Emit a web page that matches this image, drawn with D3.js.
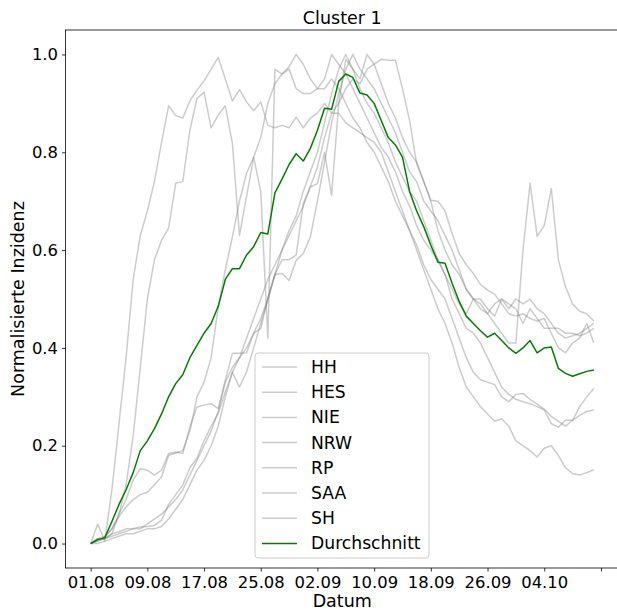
<!DOCTYPE html>
<html>
<head>
<meta charset="utf-8">
<script src="https://cdn.jsdelivr.net/npm/d3@7"></script>
<style>
  body { margin: 0; background: #fff; }
  svg text { font-family: "DejaVu Sans", sans-serif; }
</style>
</head>
<body>
<div id="chart"></div>
<script>
// x ticks every 8 days, starting 01.08 (index 0)
const tickIdx = [0, 8, 16, 24, 32, 40, 48, 56, 64, 72];
const tickLabels = ["01.08", "09.08", "17.08", "25.08", "02.09", "10.09", "18.09", "26.09", "04.10", ""];
const regions = ["HH", "HES", "NIE", "NRW", "RP", "SAA", "SH"];

const HH = [0, 0.04, 0.005, 0.11, 0.245, 0.38, 0.54, 0.63, 0.68, 0.74, 0.82, 0.895, 0.875, 0.87, 0.905, 0.927, 0.946, 0.97, 0.994, 0.95,
  0.905, 0.928, 0.903, 0.885, 0.903, 0.855, 0.85, 0.855, 0.85, 0.872, 0.85, 0.87, 0.88, 0.9, 0.88, 0.88, 0.86, 0.85, 0.84, 0.83,
  0.82, 0.8, 0.76, 0.72, 0.68, 0.64, 0.6, 0.56, 0.52, 0.48, 0.45, 0.41, 0.36, 0.32, 0.3, 0.28, 0.265, 0.25, 0.255, 0.24,
  0.21, 0.2, 0.19, 0.177, 0.195, 0.2, 0.18, 0.155, 0.143, 0.14, 0.145, 0.151];
const HES = [0, 0.01, 0.01, 0.02, 0.06, 0.12, 0.22, 0.36, 0.5, 0.58, 0.62, 0.645, 0.737, 0.74, 0.845, 0.91, 0.923, 0.85, 0.876, 0.895,
  0.818, 0.63, 0.71, 0.79, 0.72, 0.42, 0.97, 0.96, 0.975, 1.0, 0.98, 0.95, 0.93, 0.93, 0.95, 0.93, 0.9, 0.87, 0.85, 0.82,
  0.8, 0.77, 0.74, 0.7, 0.67, 0.64, 0.61, 0.57, 0.54, 0.52, 0.5, 0.46, 0.42, 0.38, 0.35, 0.335, 0.33, 0.325, 0.3, 0.29,
  0.305, 0.307, 0.295, 0.285, 0.275, 0.26, 0.25, 0.24, 0.252, 0.28, 0.3, 0.317];
const NIE = [0, 0.01, 0.015, 0.03, 0.06, 0.09, 0.13, 0.153, 0.15, 0.14, 0.15, 0.184, 0.187, 0.184, 0.238, 0.279, 0.283, 0.286, 0.276, 0.334,
  0.389, 0.389, 0.39, 0.43, 0.44, 0.5, 0.55, 0.552, 0.538, 0.579, 0.593, 0.627, 0.7, 0.78, 0.86, 0.92, 0.97, 1.0, 0.97, 0.95,
  0.93, 0.9, 0.87, 0.84, 0.8, 0.76, 0.74, 0.7, 0.68, 0.66, 0.63, 0.6, 0.56, 0.52, 0.5, 0.5, 0.48, 0.465, 0.5, 0.49,
  0.48, 0.45, 0.48, 0.46, 0.44, 0.44, 0.44, 0.43, 0.43, 0.425, 0.43, 0.44];
const NRW = [0, 0.005, 0.013, 0.03, 0.055, 0.075, 0.09, 0.1, 0.105, 0.12, 0.136, 0.18, 0.185, 0.19, 0.23, 0.3, 0.33, 0.38, 0.484, 0.56,
  0.627, 0.7, 0.757, 0.79, 0.83, 0.9, 0.94, 0.96, 0.97, 0.93, 0.92, 0.92, 0.93, 0.95, 1.0, 0.98, 0.96, 0.93, 0.9, 0.87,
  0.84, 0.81, 0.79, 0.76, 0.72, 0.69, 0.65, 0.62, 0.6, 0.58, 0.55, 0.5, 0.47, 0.44, 0.43, 0.41, 0.38, 0.35, 0.32, 0.305,
  0.295, 0.29, 0.286, 0.28, 0.273, 0.245, 0.238, 0.252, 0.252, 0.262, 0.27, 0.273];
const RP = [0, 0.01, 0.01, 0.02, 0.024, 0.03, 0.031, 0.034, 0.035, 0.037, 0.048, 0.08, 0.1, 0.12, 0.155, 0.175, 0.21, 0.24, 0.266, 0.31,
  0.35, 0.32, 0.351, 0.4, 0.45, 0.5, 0.55, 0.58, 0.58, 0.59, 0.695, 0.729, 0.736, 0.8, 0.712, 0.9, 0.99, 0.97, 0.95, 1.0,
  0.98, 0.94, 0.9, 0.87, 0.83, 0.8, 0.78, 0.74, 0.7, 0.64, 0.6, 0.57, 0.55, 0.52, 0.5, 0.48, 0.47, 0.49, 0.5, 0.48,
  0.5, 0.49, 0.5, 0.48, 0.47, 0.45, 0.43, 0.42, 0.425, 0.43, 0.44, 0.45];
const SAA = [0, 0.005, 0.01, 0.015, 0.02, 0.025, 0.03, 0.03, 0.04, 0.05, 0.06, 0.075, 0.09, 0.11, 0.14, 0.17, 0.2, 0.23, 0.27, 0.33,
  0.36, 0.38, 0.42, 0.46, 0.5, 0.54, 0.57, 0.6, 0.64, 0.67, 0.72, 0.76, 0.8, 0.86, 0.92, 0.97, 1.0, 0.97, 0.93, 0.9,
  0.88, 0.85, 0.82, 0.78, 0.75, 0.72, 0.7, 0.66, 0.62, 0.58, 0.55, 0.52, 0.49, 0.47, 0.5, 0.49, 0.47, 0.45, 0.43, 0.41,
  0.41, 0.6, 0.737, 0.628, 0.65, 0.726, 0.58, 0.525, 0.49, 0.475, 0.47, 0.455];
const SH = [0, 0.0, 0.005, 0.01, 0.015, 0.02, 0.02, 0.025, 0.03, 0.03, 0.035, 0.05, 0.07, 0.09, 0.12, 0.15, 0.17, 0.2, 0.24, 0.3,
  0.35, 0.38, 0.4, 0.43, 0.46, 0.5, 0.55, 0.6, 0.63, 0.66, 0.69, 0.73, 0.77, 0.83, 0.88, 0.9, 0.93, 0.95, 0.94, 0.97,
  0.98, 0.99, 0.988, 0.988, 0.93, 0.865, 0.777, 0.74, 0.702, 0.7, 0.68, 0.634, 0.593, 0.57, 0.552, 0.53, 0.518, 0.51, 0.49, 0.47,
  0.465, 0.47, 0.46, 0.455, 0.46, 0.43, 0.4, 0.39, 0.41, 0.42, 0.45, 0.41];
const durchschnitt = [0, 0.008, 0.012, 0.045, 0.08, 0.11, 0.145, 0.19, 0.21, 0.235, 0.265, 0.3, 0.327, 0.345, 0.38, 0.405, 0.43, 0.45, 0.485, 0.54,
  0.562, 0.562, 0.59, 0.607, 0.636, 0.633, 0.717, 0.745, 0.775, 0.797, 0.782, 0.808, 0.845, 0.89, 0.888, 0.945, 0.96, 0.953, 0.921, 0.917,
  0.9, 0.865, 0.83, 0.815, 0.79, 0.72, 0.68, 0.648, 0.61, 0.575, 0.573, 0.532, 0.495, 0.465, 0.45, 0.435, 0.422, 0.43, 0.415, 0.4,
  0.389, 0.4, 0.415, 0.39, 0.4, 0.402, 0.358, 0.348, 0.342, 0.347, 0.352, 0.355];

const series = [HH, HES, NIE, NRW, RP, SAA, SH];

const W = 617, H = 614;
const margin = {top: 30, right: -2, bottom: 46, left: 65.5};
const width = W - margin.left - margin.right;
const height = H - margin.top - margin.bottom;

const svg = d3.select("#chart").append("svg")
  .attr("width", W)
  .attr("height", H);

const g = svg.append("g")
  .attr("transform", "translate(" + margin.left + "," + margin.top + ")");

const n = durchschnitt.length;
const pad = (n - 1) * 0.05;
const xScale = d3.scaleLinear().domain([-pad, n - 1 + pad]).range([0, width]);
const yScale = d3.scaleLinear().domain([-0.05, 1.05]).range([height, 0]);

const line = d3.line()
  .x((d, i) => xScale(i))
  .y(d => yScale(d));

// gray region lines
g.selectAll(".regionLine")
  .data(series)
  .join("path")
  .attr("class", "regionLine")
  .attr("fill", "none")
  .attr("stroke", "#808080")
  .attr("stroke-opacity", 0.4)
  .attr("stroke-width", 1.5)
  .attr("stroke-linejoin", "round")
  .attr("d", line);

// mean line
g.append("path")
  .datum(durchschnitt)
  .attr("fill", "none")
  .attr("stroke", "green")
  .attr("stroke-width", 1.5)
  .attr("stroke-linejoin", "round")
  .attr("d", line);

// axes
const xAxis = d3.axisBottom(xScale)
  .tickValues(tickIdx)
  .tickFormat((d, i) => tickLabels[i])
  .tickSize(3.5).tickPadding(4.5);
const yAxis = d3.axisLeft(yScale)
  .tickValues([0, 0.2, 0.4, 0.6, 0.8, 1.0])
  .tickFormat(d3.format(".1f"))
  .tickSize(3.5).tickPadding(4);

const xg = g.append("g").attr("transform", "translate(0," + height + ")").call(xAxis);
const yg = g.append("g").call(yAxis);
[xg, yg].forEach(a => {
  a.select(".domain").remove();
  a.selectAll("line").attr("stroke", "#000").attr("stroke-width", 0.8);
  a.selectAll("text").style("font-size", "16.4px").attr("fill", "#000");
});

// frame
g.append("rect")
  .attr("width", width).attr("height", height)
  .attr("fill", "none").attr("stroke", "#000").attr("stroke-width", 0.8);

// title and labels
svg.append("text")
  .attr("x", margin.left + width / 2).attr("y", 24)
  .attr("text-anchor", "middle")
  .style("font-size", "17.5px")
  .text("Cluster 1");

svg.append("text")
  .attr("x", margin.left + width / 2).attr("y", 607)
  .attr("text-anchor", "middle")
  .style("font-size", "17.5px")
  .text("Datum");

svg.append("text")
  .attr("transform", "rotate(-90)")
  .attr("x", -(margin.top + height / 2)).attr("y", 24)
  .attr("text-anchor", "middle")
  .style("font-size", "17.5px")
  .text("Normalisierte Inzidenz");

// legend
const legend = g.append("g").attr("transform", "translate(" + (255 - margin.left) + "," + (353 - margin.top) + ")");
legend.append("rect")
  .attr("width", 174).attr("height", 205)
  .attr("rx", 3)
  .attr("fill", "#fff").attr("fill-opacity", 0.8)
  .attr("stroke", "#ccc").attr("stroke-width", 1);

const legendItems = regions.map(r => ({name: r, color: "#808080", opacity: 0.4}))
  .concat([{name: "Durchschnitt", color: "green", opacity: 1}]);

const item = legend.selectAll(".legendItem")
  .data(legendItems)
  .join("g")
  .attr("class", "legendItem")
  .attr("transform", (d, i) => "translate(0," + (14 + i * 25.2) + ")");
item.append("line")
  .attr("x1", 7).attr("x2", 42)
  .attr("stroke", d => d.color)
  .attr("stroke-opacity", d => d.opacity)
  .attr("stroke-width", 1.5);
item.append("text")
  .attr("x", 56).attr("dy", "0.35em")
  .style("font-size", "17.2px")
  .text(d => d.name);
</script>
</body>
</html>
